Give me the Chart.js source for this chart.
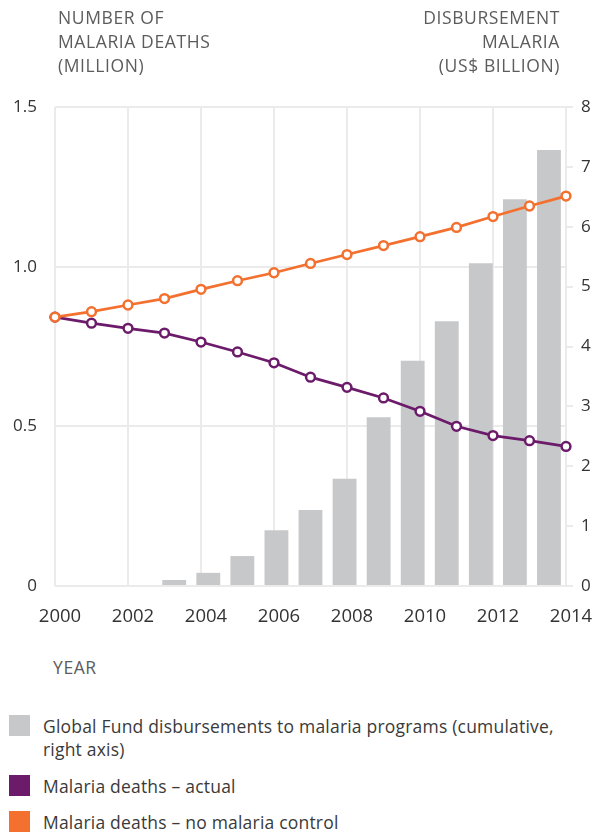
<!DOCTYPE html>
<html>
<head>
<meta charset="utf-8">
<script src="https://cdn.jsdelivr.net/npm/chart.js@4"></script>
<style>
  html, body { margin: 0; padding: 0; background: #fff; width: 592px; height: 834px; overflow: hidden; }
  body { position: relative; font-family: "Open Sans", sans-serif; }
  #wrap { position: absolute; left: 0; top: 0; width: 592px; height: 640px; }
  .t { position: absolute; font-size: 17.5px; line-height: 24px; color: #5c5c5c; letter-spacing: 0.6px; white-space: nowrap; }
  .lg { position: absolute; left: 43px; font-size: 17.5px; line-height: 23px; color: #3a3a3a; letter-spacing: 0.2px; white-space: nowrap; }
  .sw { position: absolute; left: 9px; width: 21px; height: 21px; }
</style>
</head>
<body>
<div id="wrap"><canvas id="c" width="592" height="640"></canvas></div>
<div class="t" style="left:58px; top:5px;">NUMBER OF<br>MALARIA DEATHS<br>(MILLION)</div>
<div class="t" style="right:32px; top:5px; text-align:right;">DISBURSEMENT<br>MALARIA<br>(US$ BILLION)</div>
<div class="t" style="left:53px; top:655px;">YEAR</div>

<div class="sw" style="top:715px; background:#c7c8ca;"></div>
<div class="lg" style="top:715px;">Global Fund disbursements to malaria programs (cumulative,<br>right axis)</div>
<div class="sw" style="top:775px; background:#6c1a6a;"></div>
<div class="lg" style="top:775px;">Malaria deaths – actual</div>
<div class="sw" style="top:811px; background:#f3702f;"></div>
<div class="lg" style="top:811px;">Malaria deaths – no malaria control</div>

<script>
const years = ['2000','2001','2002','2003','2004','2005','2006','2007','2008','2009','2010','2011','2012','2013','2014'];
const disbursements = [0, 0, 0, 0.10, 0.22, 0.50, 0.93, 1.27, 1.79, 2.82, 3.76, 4.42, 5.39, 6.46, 7.28];
const deathsActual = [0.842, 0.823, 0.807, 0.792, 0.764, 0.733, 0.699, 0.654, 0.622, 0.589, 0.547, 0.500, 0.471, 0.455, 0.437];
const deathsNoControl = [0.842, 0.859, 0.880, 0.900, 0.929, 0.956, 0.981, 1.010, 1.038, 1.066, 1.094, 1.123, 1.157, 1.190, 1.221];
const leftTickLabels = { 0: '0', 0.5: '0.5', 1: '1.0', 1.5: '1.5' };
const rightMax = 8;
const leftMax = 1.5;

const GRID = '#ebebeb';
const TICKFONT = { family: '"Open Sans", sans-serif', size: 17 };
const XTICKFONT = { family: '"Open Sans", sans-serif', size: 18.5 };

new Chart(document.getElementById('c'), {
  type: 'bar',
  data: {
    labels: years,
    datasets: [
      {
        type: 'line', label: 'Malaria deaths – no malaria control', data: deathsNoControl,
        xAxisID: 'x', yAxisID: 'y', order: 0,
        borderColor: '#f3702f', borderWidth: 2.7, backgroundColor: '#ffffff',
        pointRadius: 4.4, pointBorderWidth: 2.5, pointBackgroundColor: '#ffffff', pointBorderColor: '#f3702f',
        tension: 0, fill: false
      },
      {
        type: 'line', label: 'Malaria deaths – actual', data: deathsActual,
        xAxisID: 'x', yAxisID: 'y', order: 1,
        borderColor: '#6c1a6a', borderWidth: 2.7, backgroundColor: '#ffffff',
        pointRadius: 4.4, pointBorderWidth: 2.5, pointBackgroundColor: '#ffffff', pointBorderColor: '#6c1a6a',
        tension: 0, fill: false
      },
      {
        type: 'bar', label: 'Global Fund disbursements to malaria programs (cumulative, right axis)', data: disbursements,
        xAxisID: 'x2', yAxisID: 'y1', order: 2,
        backgroundColor: '#c7c8ca', borderWidth: 0, grouped: false,
        categoryPercentage: 1.0, barPercentage: 0.70
      }
    ]
  },
  options: {
    responsive: false,
    animation: false,
    layout: { padding: { top: 107, left: 0, right: 0, bottom: 0 } },
    plugins: { legend: { display: false }, tooltip: { enabled: false } },
    scales: {
      x: {
        type: 'category', position: 'bottom', offset: false,
        grid: {
          offset: false,
          color: (ctx) => (ctx.index % 2 === 0 ? GRID : 'rgba(0,0,0,0)'),
          lineWidth: 2, drawTicks: false
        },
        border: { display: false },
        ticks: {
          autoSkip: false, maxRotation: 0, minRotation: 0, padding: 20, labelOffset: 5,
          color: '#333333', font: XTICKFONT,
          callback: function (v, i) { return i % 2 === 0 ? this.getLabelForValue(v) : ''; }
        },
        afterFit: (s) => { s.height = 54; s.paddingLeft = 0; s.paddingRight = 0; }
      },
      x2: {
        type: 'category', position: 'bottom', offset: true, display: false,
        grid: { offset: true },
        afterFit: (s) => { s.paddingLeft = 0; s.paddingRight = 0; }
      },
      y: {
        type: 'linear', position: 'left', min: 0, max: leftMax,
        grid: { color: GRID, lineWidth: 2, drawTicks: false },
        border: { display: false },
        ticks: {
          stepSize: 0.5, padding: 18, color: '#333333', font: TICKFONT,
          callback: (v) => leftTickLabels[v] !== undefined ? leftTickLabels[v] : ''
        },
        afterFit: (s) => { s.width = 55; }
      },
      y1: {
        type: 'linear', position: 'right', min: 0, max: rightMax,
        grid: { drawOnChartArea: false, color: GRID, lineWidth: 2, tickLength: 7 },
        border: { display: true, color: GRID, width: 2 },
        ticks: { stepSize: 1, padding: 8, color: '#333333', font: TICKFONT },
        afterFit: (s) => { s.width = 26; }
      }
    }
  }
});
</script>
</body>
</html>
